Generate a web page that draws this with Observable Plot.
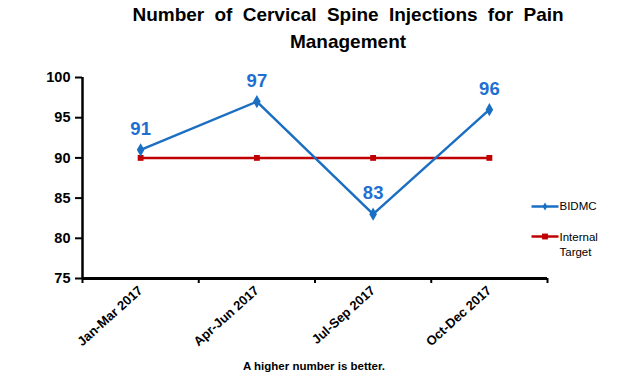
<!DOCTYPE html>
<html>
<head>
<meta charset="utf-8">
<script src="https://cdn.jsdelivr.net/npm/d3@7"></script>
<script src="https://cdn.jsdelivr.net/npm/@observablehq/plot@0.6"></script>
<style>
  html, body { margin: 0; padding: 0; background: #fff; }
  #chart { width: 620px; height: 374px; }
</style>
</head>
<body>
<div id="chart"></div>
<script>
const quarters = ["Jan-Mar 2017", "Apr-Jun 2017", "Jul-Sep 2017", "Oct-Dec 2017"];
const bidmc = [91, 97, 83, 96];
const target = [90, 90, 90, 90];
const yTicks = [75, 80, 85, 90, 95, 100];
const seriesNames = ["BIDMC", "Internal\nTarget"];
const titleText = "Number of Cervical Spine Injections for Pain\nManagement";
const captionText = "A higher number is better.";

const BLUE = "#1b6fc2";
const LABEL_BLUE = "#1f6fd2";
const RED = "#c00000";
const FONT = "'Liberation Sans', Arial, sans-serif";

const idx = quarters.map((_, i) => i);
const bounds = [-0.5, ...idx.map(i => i + 0.5)];
const bRows = bidmc.map((v, i) => ({i, v}));
const tRows = target.map((v, i) => ({i, v}));

const lineSwatch = {
  draw(ctx) { ctx.moveTo(-13.5, 0); ctx.lineTo(13.5, 0); }
};

const plot = Plot.plot({
  width: 620,
  height: 374,
  marginLeft: 82,
  marginRight: 73,
  marginTop: 77,
  marginBottom: 96,
  style: {fontFamily: FONT, background: "#fff", color: "#000", overflow: "visible"},
  x: {type: "linear", domain: [bounds[0], bounds[bounds.length - 1]], axis: null},
  y: {domain: [yTicks[0], yTicks[yTicks.length - 1]], axis: null},
  marks: [
    // y axis
    Plot.axisY({ticks: yTicks, label: null, tickSize: 7, tickPadding: 5, fontSize: 14.5, fontWeight: "bold", stroke: "#000", strokeWidth: 2}),
    Plot.ruleX([bounds[0]], {y1: yTicks[0], y2: yTicks[yTicks.length - 1], stroke: "#000", strokeWidth: 2.5}),
    // x axis
    Plot.ruleY([yTicks[0]], {stroke: "#000", strokeWidth: 3}),
    Plot.axisX({ticks: bounds, label: null, tickFormat: () => "", tickSize: 5, stroke: "#000", strokeWidth: 2}),
    Plot.axisX({ticks: idx, label: null, tickFormat: i => quarters[i], tickSize: 0, tickPadding: 10, tickRotate: -42, fontSize: 13, fontWeight: "bold"}),
    // target series
    Plot.line(tRows, {x: "i", y: "v", stroke: RED, strokeWidth: 2.5}),
    Plot.dot(tRows, {x: "i", y: "v", symbol: "square", r: 3.3, fill: RED}),
    // BIDMC series
    Plot.line(bRows, {x: "i", y: "v", stroke: BLUE, strokeWidth: 2.5}),
    Plot.dot(bRows, {x: "i", y: "v", symbol: "diamond", r: 4, fill: BLUE}),
    Plot.text(bRows, {x: "i", y: "v", text: d => String(d.v), dy: -15, lineAnchor: "bottom", fill: LABEL_BLUE, fontSize: 18.5, fontWeight: "bold"}),
    // title & caption
    Plot.text([titleText], {frameAnchor: "top", dx: 33, dy: -30, lineAnchor: "bottom", lineHeight: 1.37, fontSize: 19, fontWeight: "bold", fill: "#000"}),
    Plot.text([captionText], {frameAnchor: "bottom", dx: -1, dy: 91, lineAnchor: "bottom", fontSize: 11.5, fontWeight: "bold", fill: "#000"}),
    // legend
    Plot.dot([seriesNames[0]], {frameAnchor: "right", dx: -2.5, dy: 28.5, symbol: lineSwatch, stroke: BLUE, strokeWidth: 2.5, fill: "none"}),
    Plot.dot([seriesNames[0]], {frameAnchor: "right", dx: -2.5, dy: 28.5, symbol: "diamond", r: 2.5, fill: BLUE}),
    Plot.text([seriesNames[0]], {frameAnchor: "right", dx: 12, dy: 28.5, textAnchor: "start", lineAnchor: "middle", fontSize: 11.5, fill: "#000"}),
    Plot.dot([seriesNames[1]], {frameAnchor: "right", dx: -2.5, dy: 58.5, symbol: lineSwatch, stroke: RED, strokeWidth: 2.5, fill: "none"}),
    Plot.dot([seriesNames[1]], {frameAnchor: "right", dx: -2.5, dy: 58.5, symbol: "square", r: 3.3, fill: RED}),
    Plot.text([seriesNames[1]], {frameAnchor: "right", dx: 12, dy: 65.5, textAnchor: "start", lineAnchor: "middle", lineHeight: 1.3, fontSize: 11.5, fill: "#000"})
  ]
});
d3.select(plot).selectAll("text")
  .filter(function() { return this.textContent.includes("Cervical"); })
  .style("word-spacing", "5px");
document.getElementById("chart").appendChild(plot);
</script>
</body>
</html>
